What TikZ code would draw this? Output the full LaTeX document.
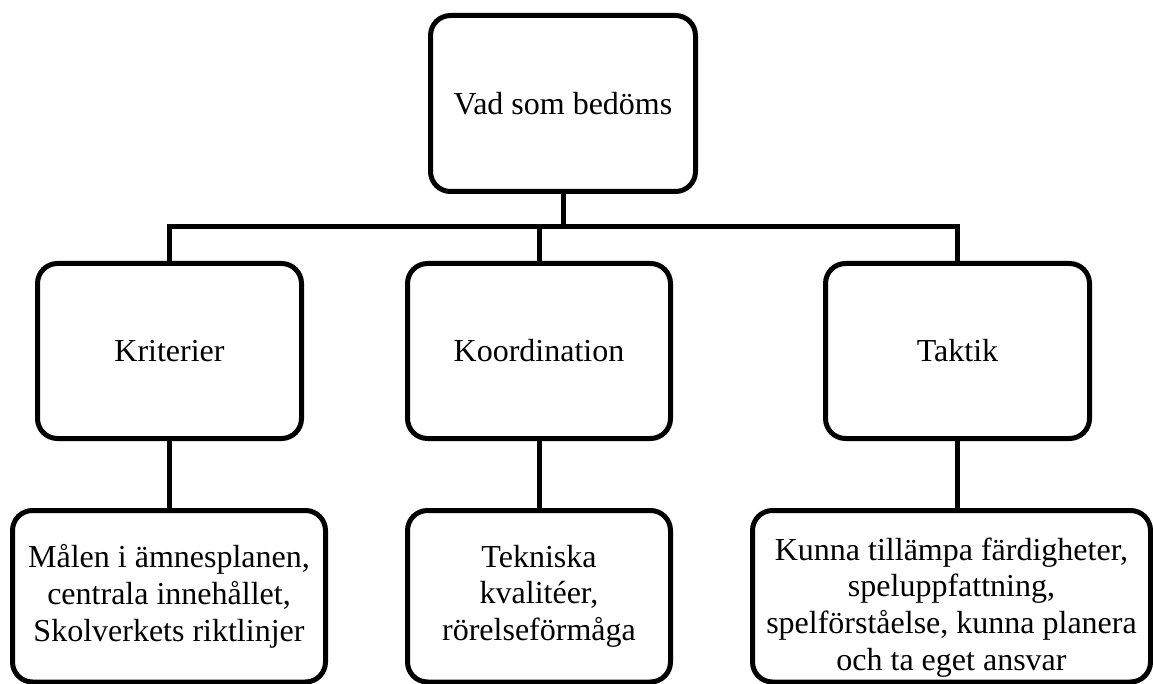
\documentclass[tikz,border=0pt]{standalone}
\usepackage{fontspec}
\setmainfont{Liberation Serif}
\begin{document}
\begin{tikzpicture}[x=1pt,y=-1pt,
  box/.style={draw=black, line width=5pt, rounded corners=20pt, fill=white,
    inner sep=0pt, align=center, font=\fontsize{32}{36.7}\selectfont},
  label/.style={inner sep=0pt, align=center, font=\fontsize{32}{36.7}\selectfont},
  conn/.style={draw=black, line width=5pt}]
  % page frame
  \fill[white] (0,0) rectangle (1153,684);
  \useasboundingbox (0,0) rectangle (1153,684);
  \begin{scope}
    \clip (0,0) rectangle (1153,684);
    % root
    \node[box, minimum width=265pt, minimum height=176pt] (top) at (563,103.5) {Vad som bedöms};
    % second level
    \node[box, minimum width=264pt, minimum height=175pt] (k1) at (169.5,351) {Kriterier};
    \node[box, minimum width=263pt, minimum height=175pt] (k2) at (539,351) {Koordination};
    \node[box, minimum width=264pt, minimum height=175pt] (k3) at (957.5,351) {Taktik};
    % third level
    \node[box, minimum width=313pt, minimum height=171.5pt] (b1) at (169,596.25)
      {Målen i ämnesplanen,\\centrala innehållet,\\Skolverkets riktlinjer};
    \node[box, minimum width=263pt, minimum height=171.5pt] (b2) at (539,596.25)
      {Tekniska\\kvalitéer,\\rörelseförmåga};
    \node[box, minimum width=398pt, minimum height=171.5pt] (b3) at (951.5,596.25) {};
    \node[label] (b3text) at ([yshift=-11pt]b3.center)
      {Kunna tillämpa färdigheter,\\speluppfattning,\\spelförståelse, kunna planera\\och ta eget ansvar};
    % connectors
    \coordinate (bus) at (0,227);
    \draw[conn] (top.south) -- (top.south |- bus);
    \draw[conn] (k1.north) -- (k1.north |- bus) -| (k3.north);
    \draw[conn] (k2.north) -- (k2.north |- bus);
    \draw[conn] (k1.south) -- (k1.south |- b1.north);
    \draw[conn] (k2.south) -- (k2.south |- b2.north);
    \draw[conn] (k3.south) -- (k3.south |- b3.north);
  \end{scope}
\end{tikzpicture}
\end{document}
